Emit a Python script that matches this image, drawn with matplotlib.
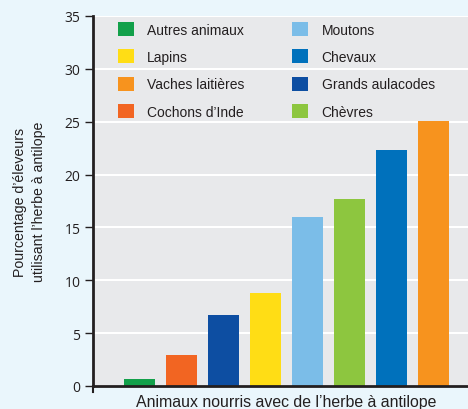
import matplotlib.pyplot as plt
import matplotlib.patches as mpatches

# Share of farmers using antelope grass, by animal fed
animals = ['Autres animaux', 'Cochons d’Inde', 'Grands aulacodes', 'Lapins',
           'Moutons', 'Chèvres', 'Chevaux', 'Vaches laitières']
percent = [0.7, 2.9, 6.7, 8.8, 16.0, 17.7, 22.3, 25.1]
colors = ['#12A04A', '#F26522', '#0D4EA2', '#FFDD15',
          '#7BBDE8', '#8DC63F', '#0071BC', '#F7931E']

# legend order (two columns, filled top to bottom)
legend_order = ['Autres animaux', 'Lapins', 'Vaches laitières', 'Cochons d’Inde',
                'Moutons', 'Chevaux', 'Grands aulacodes', 'Chèvres']

yticks = [0, 5, 10, 15, 20, 25, 30, 35]

plt.rcParams['font.family'] = ['Liberation Sans', 'DejaVu Sans']

fig = plt.figure(figsize=(4.68, 4.10), dpi=100, facecolor='#EAF6FC')
ax = fig.add_axes([93 / 468, 1 - 387 / 410, 1 - 93 / 468, 370 / 410])
ax.set_facecolor('#E8E9EB')

x = list(range(len(animals)))
ax.bar(x, percent, width=0.74, color=colors, zorder=3)

ax.set_ylim(0, 35)
ax.set_xlim(-1.107, 7.82)
ax.set_yticks(yticks)
ax.set_yticklabels([str(t) for t in yticks], fontfamily='Open Sans', fontsize=10,
                   color='#231F20')
ax.set_xticks([])
ax.tick_params(axis='y', length=6, width=1, color='#231F20', pad=3)
ax.grid(axis='y', color='white', linewidth=1.5, zorder=1)

for side in ['top', 'right']:
    ax.spines[side].set_visible(False)
for side in ['left', 'bottom']:
    ax.spines[side].set_linewidth(2)
    ax.spines[side].set_color('#231F20')
    ax.spines[side].set_zorder(4)
# small stub of the y axis below the baseline
ax.plot([0, 0], [0, -0.017], transform=ax.transAxes, color='#231F20',
        linewidth=1.5, clip_on=False)

ax.set_ylabel('Pourcentage d’éleveurs\nutilisant l’herbe à antilope', fontsize=10.2,
              color='#231F20', labelpad=13, linespacing=1.45)
ax.set_xlabel('Animaux nourris avec de l’herbe à antilope', fontsize=11.4,
              color='#231F20')
ax.xaxis.set_label_coords(0.515, -0.022, transform=ax.transAxes)
ax.xaxis.label.set_va('top')

color_of = dict(zip(animals, colors))
handles = [mpatches.Patch(facecolor=color_of[a], label=a) for a in legend_order]
ax.legend(handles=handles, ncol=2, frameon=False, fontsize=10,
          loc='upper left', bbox_to_anchor=(118 / 468, 1 - 23 / 410),
          bbox_transform=fig.transFigure, borderpad=0, borderaxespad=0,
          handlelength=1.15, handleheight=1.15, handletextpad=0.95,
          labelspacing=0.92, columnspacing=3.45, labelcolor='#231F20')

fig.savefig('out.png', dpi=100, facecolor=fig.get_facecolor())
